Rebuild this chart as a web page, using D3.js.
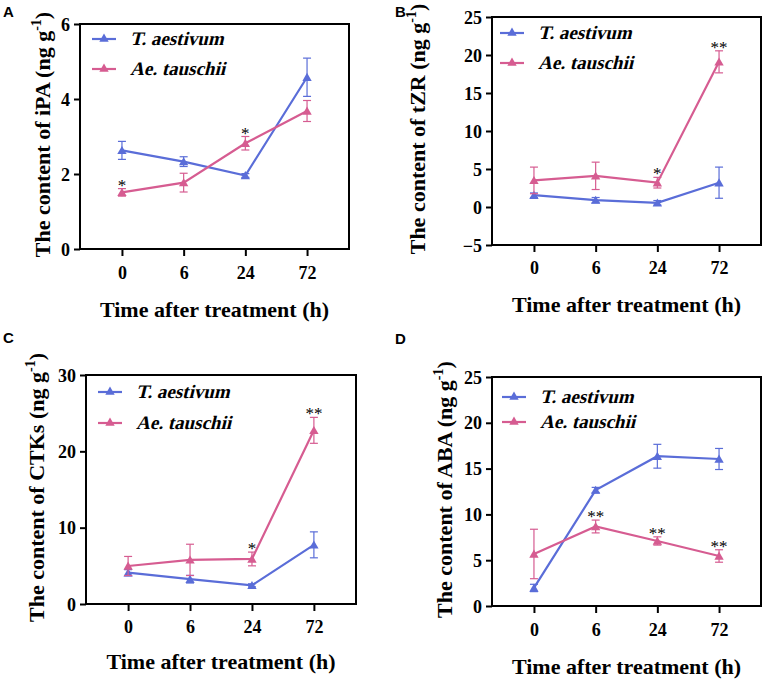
<!DOCTYPE html>
<html>
<head>
<meta charset="utf-8">
<script src="https://cdn.jsdelivr.net/npm/d3@7"></script>
<style>
  body { margin: 0; background: #fff; }
  svg { display: block; }
  svg text { font-family: 'Liberation Serif', 'Times New Roman', 'DejaVu Serif', serif; }
  svg text.lab { font-family: 'Liberation Sans', Arial, sans-serif; }
</style>
</head>
<body>
<div id="chart"></div>
<script>
'use strict';

// time points (h)
const times = ['0', '6', '24', '72'];
const seriesNames = ['T. aestivum', 'Ae. tauschii'];

// A - iPA
const iPA_aes = [2.63, 2.33, 1.96, 4.58];
const iPA_aesErr = [0.24, 0.13, 0.05, 0.51];
const iPA_tau = [1.51, 1.77, 2.82, 3.68];
const iPA_tauErr = [0.10, 0.25, 0.18, 0.28];
const iPA_sig = ['*', '', '*', ''];

// B - tZR
const tZR_aes = [1.55, 0.9, 0.55, 3.2];
const tZR_aesErr = [0.3, 0.35, 0.3, 2.05];
const tZR_tau = [3.5, 4.1, 3.2, 19.1];
const tZR_tauErr = [1.75, 1.8, 0.7, 1.45];
const tZR_sig = ['', '', '*', '**'];

// C - CTKs
const CTK_aes = [4.1, 3.25, 2.45, 7.75];
const CTK_aesErr = [0.4, 0.5, 0.2, 1.7];
const CTK_tau = [4.98, 5.78, 5.9, 22.75];
const CTK_tauErr = [1.25, 2.05, 0.9, 1.7];
const CTK_sig = ['', '', '*', '**'];

// D - ABA
const ABA_aes = [1.97, 12.65, 16.35, 16.05];
const ABA_aesErr = [0.4, 0.3, 1.3, 1.15];
const ABA_tau = [5.68, 8.68, 7.1, 5.46];
const ABA_tauErr = [2.7, 0.7, 0.45, 0.68];
const ABA_sig = ['', '**', '**', '**'];

const colors = ['#5a6dd8', '#d65c91'];

const panels = [
  { label: 'A', lx: 3, ly: 17, frame: [80, 24, 269, 225], domain: [0, 6], ticks: [0, 2, 4, 6],
    name: 'iPA', ytx: 50, leg: [92, 39, 30], tickY: 279, titleY: 317,
    aes: iPA_aes, aesErr: iPA_aesErr, tau: iPA_tau, tauErr: iPA_tauErr, sig: iPA_sig },
  { label: 'B', lx: 395, ly: 17, frame: [492, 17, 269, 228], domain: [-5, 25], ticks: [-5, 0, 5, 10, 15, 20, 25],
    name: 'tZR', ytx: 425, leg: [500, 33, 30], tickY: 274, titleY: 312,
    aes: tZR_aes, aesErr: tZR_aesErr, tau: tZR_tau, tauErr: tZR_tauErr, sig: tZR_sig },
  { label: 'C', lx: 3, ly: 343, frame: [86, 375, 270, 229], domain: [0, 30], ticks: [0, 10, 20, 30],
    name: 'CTKs', ytx: 44, leg: [98, 392, 31], tickY: 633, titleY: 669,
    aes: CTK_aes, aesErr: CTK_aesErr, tau: CTK_tau, tauErr: CTK_tauErr, sig: CTK_sig },
  { label: 'D', lx: 395, ly: 344, frame: [492, 377, 269, 229], domain: [0, 25], ticks: [0, 5, 10, 15, 20, 25],
    name: 'ABA', ytx: 452, leg: [502, 397, 25], tickY: 636, titleY: 674,
    aes: ABA_aes, aesErr: ABA_aesErr, tau: ABA_tau, tauErr: ABA_tauErr, sig: ABA_sig }
];

const svg = d3.select('#chart').append('svg')
  .attr('width', 764)
  .attr('height', 679);

const tri = d3.symbol().type(d3.symbolTriangle).size(38);

panels.forEach(p => {
  const [fx, fy, fw, fh] = p.frame;
  const x = d3.scalePoint().domain(times).range([fx, fx + fw]).padding(0.68);
  const y = d3.scaleLinear().domain(p.domain).range([fy + fh, fy]);
  const g = svg.append('g');

  g.append('text')
    .attr('class', 'lab')
    .attr('x', p.lx).attr('y', p.ly)
    .style('font-weight', 'bold').style('font-size', '15px')
    .text(p.label);

  // axes
  const yAxis = g.append('g')
    .attr('transform', `translate(${fx},0)`)
    .call(d3.axisLeft(y).tickValues(p.ticks).tickFormat(d3.format('d')).tickSize(6).tickPadding(4));
  const xAxis = g.append('g')
    .attr('transform', `translate(0,${fy + fh})`)
    .call(d3.axisBottom(x).tickSize(7).tickPadding(12));
  [yAxis, xAxis].forEach(a => {
    a.attr('font-family', null);
    a.select('.domain').remove();
    a.selectAll('line').attr('stroke', '#000').attr('stroke-width', 2);
    a.selectAll('text')
      .attr('fill', '#000')
      .style('font-weight', 'bold')
      .style('font-size', '18px');
  });
  xAxis.selectAll('text').attr('dy', null).attr('y', p.tickY - fy - fh);
  yAxis.selectAll('text').attr('dy', '0.34em');

  g.append('rect')
    .attr('x', fx).attr('y', fy).attr('width', fw).attr('height', fh)
    .attr('fill', 'none').attr('stroke', '#000').attr('stroke-width', 2);

  // titles
  g.append('text')
    .attr('x', fx + fw / 2).attr('y', p.titleY)
    .attr('text-anchor', 'middle')
    .style('font-weight', 'bold').style('font-size', '22px')
    .text('Time after treatment (h)');

  const yt = g.append('text')
    .attr('transform', `translate(${p.ytx},${fy + fh / 2 - 2}) rotate(-90)`)
    .attr('text-anchor', 'middle')
    .style('font-weight', 'bold').style('font-size', '22px');
  yt.append('tspan').text(`The content of ${p.name} (ng g`);
  yt.append('tspan').attr('dy', -9).style('font-size', '14px').text('-1');
  yt.append('tspan').attr('dy', 9).text(')');

  // series
  const series = [
    { vals: p.aes, err: p.aesErr, color: colors[0] },
    { vals: p.tau, err: p.tauErr, color: colors[1] }
  ];
  series.forEach(s => {
    const pts = times.map((t, i) => ({ t, v: s.vals[i], e: s.err[i] }));
    const eb = g.append('g').attr('stroke', s.color).attr('stroke-width', 1.2);
    pts.forEach(d => {
      const cx = x(d.t);
      eb.append('line').attr('x1', cx).attr('x2', cx).attr('y1', y(d.v - d.e)).attr('y2', y(d.v + d.e));
      eb.append('line').attr('x1', cx - 4).attr('x2', cx + 4).attr('y1', y(d.v - d.e)).attr('y2', y(d.v - d.e));
      eb.append('line').attr('x1', cx - 4).attr('x2', cx + 4).attr('y1', y(d.v + d.e)).attr('y2', y(d.v + d.e));
    });
    g.append('path')
      .datum(pts)
      .attr('fill', 'none').attr('stroke', s.color).attr('stroke-width', 2.2)
      .attr('d', d3.line().x(d => x(d.t)).y(d => y(d.v)));
    g.selectAll(null).data(pts).enter().append('path')
      .attr('d', tri)
      .attr('transform', d => `translate(${x(d.t)},${y(d.v) + 1})`)
      .attr('fill', s.color);
  });

  // significance marks
  times.forEach((t, i) => {
    if (!p.sig[i]) return;
    g.append('text')
      .attr('x', x(t)).attr('y', y(p.tau[i] + p.tauErr[i]) + 2)
      .attr('text-anchor', 'middle')
      .style('font-size', '17px')
      .text(p.sig[i]);
  });

  // legend (bold serif, slanted by hand since no bold-italic serif face)
  const [lx, ly, gap] = p.leg;
  seriesNames.forEach((n, i) => {
    const yy = ly + i * gap;
    g.append('line').attr('x1', lx).attr('x2', lx + 24).attr('y1', yy).attr('y2', yy)
      .attr('stroke', colors[i]).attr('stroke-width', 2.2);
    g.append('path').attr('d', tri).attr('transform', `translate(${lx + 12},${yy})`).attr('fill', colors[i]);
    g.append('text')
      .attr('transform', `translate(${lx + 38},${yy + 6}) skewX(-14)`)
      .style('font-weight', 'bold')
      .style('font-size', '19px')
      .text(n);
  });
});
</script>
</body>
</html>
